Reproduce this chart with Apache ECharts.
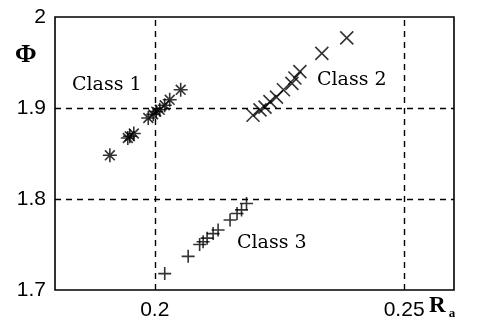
<!DOCTYPE html>
<html>
<head>
    <meta charset="utf-8"/>
    <title>Phi vs Ra</title>
    <script src="https://cdn.jsdelivr.net/npm/echarts@6/dist/echarts.min.js"></script>
    <style>
        html, body { margin: 0; padding: 0; background: #fff; }
        #main { width: 478px; height: 335px; }
    </style>
</head>
<body>
<div id="main"></div>
<script>
    // 数据
    var class1 = [
        [0.1910, 1.848], [0.1946, 1.867], [0.1950, 1.869], [0.1958, 1.872],
        [0.1987, 1.889], [0.1997, 1.893], [0.2003, 1.896], [0.2010, 1.898],
        [0.2020, 1.903], [0.2030, 1.909], [0.2052, 1.920]
    ];
    var class2 = [
        [0.2385, 1.977], [0.2335, 1.960], [0.2291, 1.940], [0.2281, 1.933],
        [0.2275, 1.927], [0.2258, 1.920], [0.2244, 1.912], [0.2231, 1.907],
        [0.2221, 1.901], [0.2211, 1.898], [0.2197, 1.892]
    ];
    var class3 = [
        [0.2020, 1.718], [0.2067, 1.737], [0.2090, 1.750], [0.2097, 1.753],
        [0.2105, 1.757], [0.2117, 1.762], [0.2127, 1.766], [0.2151, 1.777],
        [0.2165, 1.784], [0.2174, 1.788], [0.2184, 1.795]
    ];
    var xTicks = [0.2, 0.25];
    var yTicks = [1.7, 1.8, 1.9, 2];
    var xGrid = [0.2, 0.25];
    var yGrid = [1.8, 1.9];

    var asterisk = 'path://M0,5L10,5M5,0L5,10M1.5,1.5L8.5,8.5M8.5,1.5L1.5,8.5';
    var cross = 'path://M0,0L10,10M10,0L0,10';
    var plus = 'path://M0,5L10,5M5,0L5,10';

    var markStyle = { color: 'transparent', borderColor: '#000', borderWidth: 1.6 };
    var dash = { color: '#000', width: 1.4, type: [6, 5] };

    var gridLines = [];
    xGrid.forEach(function (v) { gridLines.push({ xAxis: v }); });
    yGrid.forEach(function (v) { gridLines.push({ yAxis: v }); });

    var myChart = echarts.init(document.getElementById('main'), null, { renderer: 'canvas' });
    var option = {
        animation: false,
        backgroundColor: '#fff',
        grid: {
            left: 55, right: 24, top: 17, bottom: 45,
            show: true, borderColor: '#000', borderWidth: 1.6, backgroundColor: 'transparent', z: 10
        },
        xAxis: {
            type: 'value', min: 0.18, max: 0.26,
            axisLine: { show: false }, axisTick: { show: false }, splitLine: { show: false },
            axisLabel: {
                customValues: xTicks, margin: 10,
                color: '#000', fontFamily: 'Liberation Sans', fontSize: 21
            }
        },
        yAxis: {
            type: 'value', min: 1.7, max: 2, interval: 0.1,
            axisLine: { show: false }, axisTick: { show: false }, splitLine: { show: false },
            axisLabel: {
                customValues: yTicks, margin: 9,
                color: '#000', fontFamily: 'Liberation Sans', fontSize: 21
            }
        },
        series: [
            {
                type: 'line', data: [], silent: true,
                markLine: {
                    symbol: 'none', silent: true, label: { show: false },
                    lineStyle: dash, data: gridLines
                }
            },
            { type: 'scatter', symbol: asterisk, symbolSize: 14, itemStyle: markStyle, data: class1 },
            { type: 'scatter', symbol: cross, symbolSize: 13, itemStyle: markStyle, data: class2 },
            { type: 'scatter', symbol: plus, symbolSize: 13, itemStyle: markStyle, data: class3 }
        ],
        graphic: [
            { type: 'text', left: 72, top: 76, style: { text: 'Class 1', font: '19px "DejaVu Serif"', fill: '#000' } },
            { type: 'text', left: 317, top: 71, style: { text: 'Class 2', font: '19px "DejaVu Serif"', fill: '#000' } },
            { type: 'text', left: 237, top: 234, style: { text: 'Class 3', font: '19px "DejaVu Serif"', fill: '#000' } },
            { type: 'text', left: 15, top: 42, style: { text: 'Φ', font: 'bold 26px "Liberation Serif"', fill: '#000' } },
            {
                type: 'text', left: 429, top: 295,
                style: {
                    text: '{r|R}{a| a}',
                    rich: {
                        r: { font: 'bold 23px "Liberation Serif"', fill: '#000' },
                        a: { font: 'bold 13px "Liberation Serif"', fill: '#000', padding: [14, 0, 0, 0] }
                    }
                }
            }
        ]
    };
    myChart.setOption(option);
</script>
</body>
</html>
